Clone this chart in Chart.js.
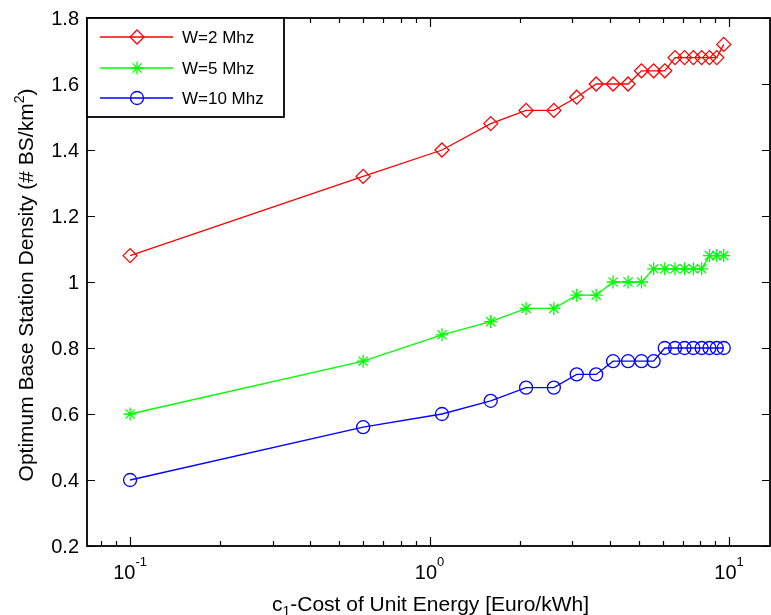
<!DOCTYPE html>
<html>
<head>
<meta charset="utf-8">
<title>Optimum base station density vs energy cost</title>
<script src="https://cdn.jsdelivr.net/npm/chart.js@4/dist/chart.umd.min.js"></script>
<style>
  html, body { margin: 0; padding: 0; background: #fff; }
  #chart { display: block; }
</style>
</head>
<body>
<canvas id="chart" width="771" height="615"></canvas>
<script>
// unit energy cost c1 [Euro/kWh]
var costs = [0.1, 0.6, 1.1, 1.6, 2.1, 2.6, 3.1, 3.6, 4.1, 4.6, 5.1, 5.6, 6.1, 6.6, 7.1, 7.6, 8.1, 8.6, 9.1, 9.6];
// optimum BS density for each bandwidth
var densityW2 = [1.08, 1.32, 1.40, 1.48, 1.52, 1.52, 1.56, 1.60, 1.60, 1.60, 1.64, 1.64, 1.64, 1.68, 1.68, 1.68, 1.68, 1.68, 1.68, 1.72];
var densityW5 = [0.60, 0.76, 0.84, 0.88, 0.92, 0.92, 0.96, 0.96, 1.00, 1.00, 1.00, 1.04, 1.04, 1.04, 1.04, 1.04, 1.04, 1.08, 1.08, 1.08];
var densityW10 = [0.40, 0.56, 0.60, 0.64, 0.68, 0.68, 0.72, 0.72, 0.76, 0.76, 0.76, 0.76, 0.80, 0.80, 0.80, 0.80, 0.80, 0.80, 0.80, 0.80];
var seriesLabels = ['W=2 Mhz', 'W=5 Mhz', 'W=10 Mhz'];

var yTicks = [0.2, 0.4, 0.6, 0.8, 1.0, 1.2, 1.4, 1.6, 1.8];
var yTickLabels = ['0.2', '0.4', '0.6', '0.8', '1', '1.2', '1.4', '1.6', '1.8'];
var xMajorTicks = [0.1, 1, 10];
var xTickExponents = ['-1', '0', '1'];
var xMinorTicks = [0.08, 0.09, 0.2, 0.3, 0.4, 0.5, 0.6, 0.7, 0.8, 0.9, 2, 3, 4, 5, 6, 7, 8, 9];

var FONT = "Arial, 'Liberation Sans', Helvetica, sans-serif";

function toPoints(ys) {
  return costs.map(function (c, i) { return { x: c, y: ys[i] }; });
}

function makeSet(label, ys, color, style, radius) {
  return {
    label: label,
    data: toPoints(ys),
    borderColor: color,
    borderWidth: 1.3,
    pointStyle: style,
    pointRadius: radius,
    pointBorderWidth: 1.3,
    pointBorderColor: color,
    pointBackgroundColor: 'rgba(0,0,0,0)',
    tension: 0,
    clip: false
  };
}

// small marker painter for the legend box
function drawMarker(ctx, style, x, y, r) {
  ctx.beginPath();
  if (style === 'rectRot') {
    ctx.moveTo(x, y - r);
    ctx.lineTo(x + r, y);
    ctx.lineTo(x, y + r);
    ctx.lineTo(x - r, y);
    ctx.closePath();
  } else if (style === 'circle') {
    ctx.arc(x, y, r, 0, Math.PI * 2);
  } else if (style === 'star') {
    for (var k = 0; k < 4; k++) {
      var a = k * Math.PI / 4;
      ctx.moveTo(x - Math.cos(a) * r, y - Math.sin(a) * r);
      ctx.lineTo(x + Math.cos(a) * r, y + Math.sin(a) * r);
    }
  }
  ctx.stroke();
}

var axesPlugin = {
  id: 'matlabAxes',
  afterDraw: function (chart) {
    var ctx = chart.ctx;
    var area = chart.chartArea;
    var xs = chart.scales.x;
    var ys = chart.scales.y;
    ctx.save();

    // box
    ctx.strokeStyle = '#000';
    ctx.lineWidth = 1.8;
    ctx.strokeRect(area.left, area.top, area.right - area.left, area.bottom - area.top);

    // ticks pointing inwards
    ctx.lineWidth = 1.2;
    ctx.beginPath();
    yTicks.forEach(function (v) {
      var py = Math.round(ys.getPixelForValue(v)) + 0.5;
      ctx.moveTo(area.left, py); ctx.lineTo(area.left + 8, py);
      ctx.moveTo(area.right, py); ctx.lineTo(area.right - 8, py);
    });
    xMajorTicks.forEach(function (v) {
      var px = Math.round(xs.getPixelForValue(v)) + 0.5;
      ctx.moveTo(px, area.bottom); ctx.lineTo(px, area.bottom - 9);
      ctx.moveTo(px, area.top); ctx.lineTo(px, area.top + 9);
    });
    xMinorTicks.forEach(function (v) {
      var px = Math.round(xs.getPixelForValue(v)) + 0.5;
      ctx.moveTo(px, area.bottom); ctx.lineTo(px, area.bottom - 5);
      ctx.moveTo(px, area.top); ctx.lineTo(px, area.top + 5);
    });
    ctx.stroke();

    ctx.fillStyle = '#000';

    // y tick labels
    ctx.font = '20px ' + FONT;
    ctx.textAlign = 'right';
    ctx.textBaseline = 'middle';
    yTicks.forEach(function (v, i) {
      ctx.fillText(yTickLabels[i], area.left - 8, ys.getPixelForValue(v) + 1);
    });

    // x tick labels as 10^n
    ctx.textAlign = 'left';
    ctx.textBaseline = 'alphabetic';
    xMajorTicks.forEach(function (v, i) {
      var px = xs.getPixelForValue(v);
      ctx.font = '20px ' + FONT;
      var w1 = ctx.measureText('10').width;
      ctx.font = '13px ' + FONT;
      var w2 = ctx.measureText(xTickExponents[i]).width;
      var x0 = px - (w1 + w2) / 2;
      ctx.font = '20px ' + FONT;
      ctx.fillText('10', x0, 579);
      ctx.font = '13px ' + FONT;
      ctx.fillText(xTickExponents[i], x0 + w1, 566);
    });

    // x axis title with subscript
    var xa = 'c', xb = '1', xc = '-Cost of Unit Energy [Euro/kWh]';
    ctx.font = '21px ' + FONT;
    var wa = ctx.measureText(xa).width, wc = ctx.measureText(xc).width;
    ctx.font = '14px ' + FONT;
    var wb = ctx.measureText(xb).width;
    var cx = (area.left + area.right) / 2 + 2;
    var sx = cx - (wa + wb + wc) / 2;
    ctx.font = '21px ' + FONT;
    ctx.fillText(xa, sx, 611);
    ctx.fillText(xc, sx + wa + wb, 611);
    ctx.font = '14px ' + FONT;
    ctx.fillText(xb, sx + wa, 616);

    // y axis title with superscript
    var ya = 'Optimum Base Station Density (# BS/km', yb = '2', yc = ')';
    ctx.save();
    ctx.translate(33, (area.top + area.bottom) / 2 + 3);
    ctx.rotate(-Math.PI / 2);
    ctx.font = '21px ' + FONT;
    var ta = ctx.measureText(ya).width, tc = ctx.measureText(yc).width;
    ctx.font = '14px ' + FONT;
    var tb = ctx.measureText(yb).width;
    var sy = -(ta + tb + tc) / 2;
    ctx.font = '21px ' + FONT;
    ctx.fillText(ya, sy, 0);
    ctx.fillText(yc, sy + ta + tb, 0);
    ctx.font = '14px ' + FONT;
    ctx.fillText(yb, sy + ta, -9);
    ctx.restore();

    // legend box in the upper left corner
    var lx = area.left, ly = area.top, lw = 197, lh = 99;
    ctx.fillStyle = '#fff';
    ctx.fillRect(lx, ly, lw, lh);
    ctx.strokeStyle = '#000';
    ctx.lineWidth = 1.8;
    ctx.strokeRect(lx, ly, lw, lh);
    var rows = [37, 68, 98];
    chart.data.datasets.forEach(function (ds, i) {
      var ry = rows[i];
      ctx.strokeStyle = ds.borderColor;
      ctx.lineWidth = 1.3;
      ctx.beginPath();
      ctx.moveTo(lx + 13, ry); ctx.lineTo(lx + 86, ry);
      ctx.stroke();
      drawMarker(ctx, ds.pointStyle, lx + 50, ry, ds.pointRadius);
      ctx.fillStyle = '#000';
      ctx.font = '17px ' + FONT;
      ctx.textAlign = 'left';
      ctx.textBaseline = 'middle';
      ctx.fillText(ds.label, lx + 95, ry + 1);
    });

    ctx.restore();
  }
};

new Chart(document.getElementById('chart'), {
  type: 'line',
  data: {
    datasets: [
      makeSet(seriesLabels[0], densityW2, '#ff0000', 'rectRot', 7),
      makeSet(seriesLabels[1], densityW5, '#00ff00', 'star', 6.5),
      makeSet(seriesLabels[2], densityW10, '#0000ff', 'circle', 6.5)
    ]
  },
  options: {
    responsive: false,
    animation: false,
    layout: { autoPadding: false, padding: { left: 87, top: 18, right: 1, bottom: 69 } },
    plugins: { legend: { display: false }, tooltip: { enabled: false } },
    scales: {
      x: { type: 'logarithmic', min: 0.0718, max: 13.7, display: false },
      y: { type: 'linear', min: 0.2, max: 1.8, display: false }
    }
  },
  plugins: [axesPlugin]
});
</script>
</body>
</html>
